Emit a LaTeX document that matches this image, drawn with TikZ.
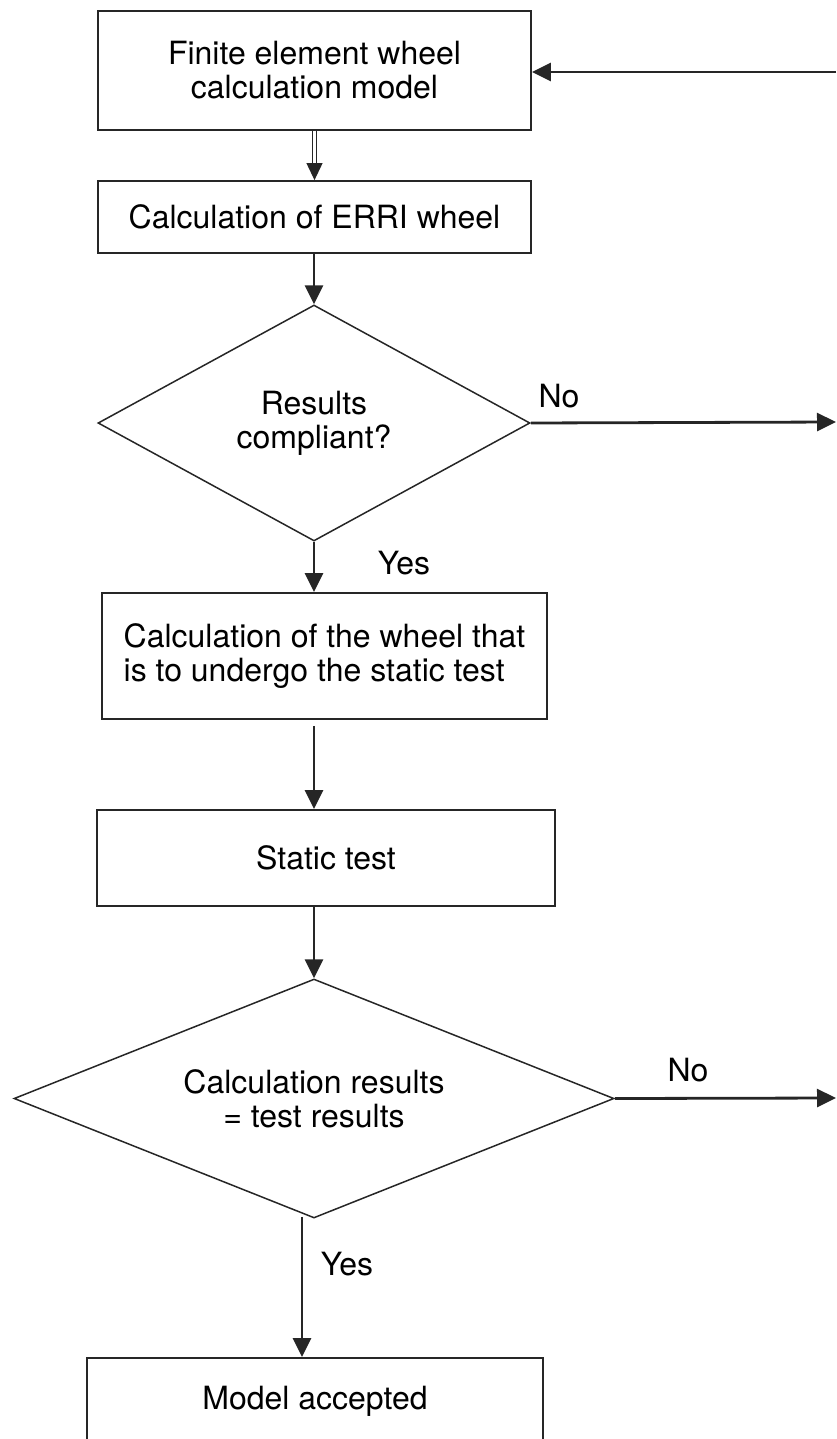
\documentclass[tikz,border=0pt]{standalone}
\usepackage{fontspec}
\setmainfont{TeX Gyre Heros}
\usetikzlibrary{arrows.meta,shapes.geometric}

\tikzset{
  stepbox/.style={draw=black!85, line width=1.8pt, rectangle, inner sep=0pt,
    align=center, font=\fontsize{32}{34}\selectfont},
  decision/.style={draw=black!85, line width=1.5pt, diamond, inner sep=0pt,
    align=center, font=\fontsize{32}{34}\selectfont},
  flow/.style={draw=black!85, line width=2.8pt, -{Triangle[length=19pt,width=18pt]}},
  tag/.style={font=\fontsize{32}{34}\selectfont, inner sep=0pt}
}

\begin{document}
\begin{tikzpicture}[x=1pt,y=-1pt]
\useasboundingbox (0,0) rectangle (836,1439);

% process steps
\node[stepbox, minimum width=433pt, minimum height=119pt] (b1) at (314.5,70.5)
  {\fontsize{32}{27}\selectfont Finite element wheel\\calculation model};
\node[stepbox, minimum width=433pt, minimum height=72pt] (b2) at (314.5,217)
  {Calculation of ERRI wheel};
\node[decision, aspect=1.83, minimum width=432pt, minimum height=236pt] (d1) at (314,423)
  {\fontsize{32}{33}\selectfont Results\\compliant?};
\node[stepbox, align=left, minimum width=445pt, minimum height=126pt] (b3) at (324.5,656)
  {\fontsize{32}{36}\selectfont Calculation of the wheel that\\is to undergo the static test};
\node[stepbox, minimum width=458pt, minimum height=96pt] (b4) at (326,858)
  {Static test};
\node[decision, aspect=2.5, minimum width=600pt, minimum height=239pt] (d2) at (314,1098.5)
  {\fontsize{32}{35}\selectfont Calculation results\\= test results};
\node[stepbox, minimum width=456pt, minimum height=86pt] (b5) at (315,1401)
  {Model accepted};

% loose ends on the right margin
\coordinate (e0) at (836,72);
\coordinate (e1) at (836,422);
\coordinate (e2) at (836,1098);

% connectors
\draw[draw=black!85, line width=1.1pt, double distance=2.4pt,
      -{Triangle[length=17pt,width=16pt]}] (b1.south) -- (b2.north);
\draw[flow] (b2.south -| d1.north) -- (d1.north);
\draw[flow] (d1.south) -- (b3.north -| d1.south);
\draw[flow] ([yshift=-6pt]b3.south -| d1.south) -- (b4.north -| d1.south);
\draw[flow] (b4.south -| d2.north) -- (d2.north);
\draw[flow] ([xshift=-12pt,yshift=2pt]d2.south) -- ([xshift=-12pt]d2.south |- b5.north);
\draw[flow] (d1.east) -- (e1);
\draw[flow] (d2.east) -- (e2);
\draw[flow] (e0) -- (b1.east |- e0);

% branch labels
\node[tag] (no1) at (559,396) {No};
\node[tag] (yes1) at (404,563) {Yes};
\node[tag] (no2) at (688,1070) {No};
\node[tag] (yes2) at (347,1264) {Yes};
\end{tikzpicture}
\end{document}
